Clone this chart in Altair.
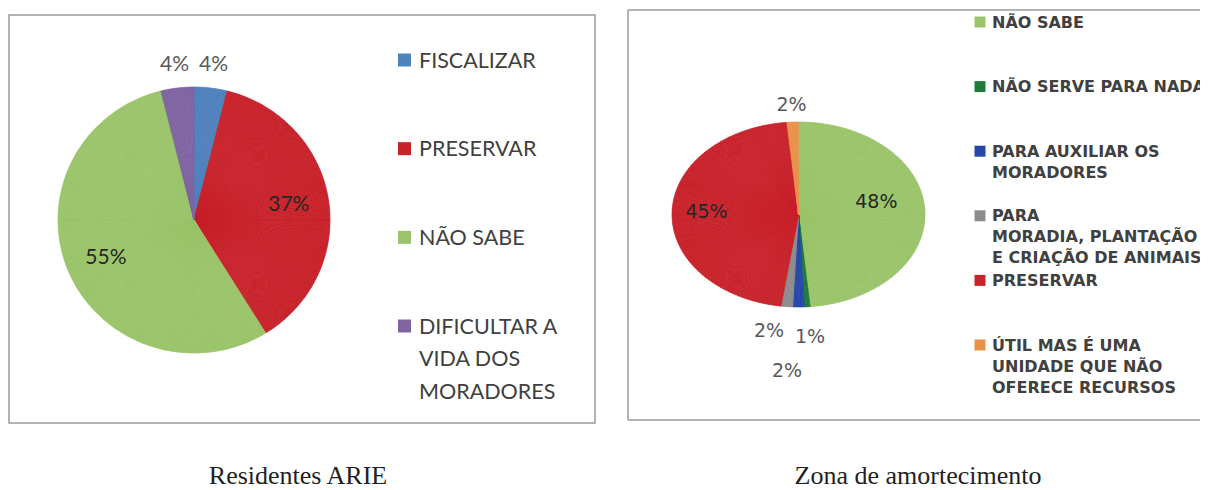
import math
import altair as alt
import pandas as pd

# ---------------- data ----------------
left_categories = ["FISCALIZAR", "PRESERVAR", "NÃO SABE", "DIFICULTAR A VIDA DOS MORADORES"]
left_values = [4, 37, 55, 4]
left_legend_labels = ["FISCALIZAR", "PRESERVAR", "NÃO SABE", "DIFICULTAR A\nVIDA DOS\nMORADORES"]
left_colors = ["#4f81bd", "#c8232b", "#9bc46a", "#8064a2"]

right_categories = [
    "NÃO SABE",
    "NÃO SERVE PARA NADA",
    "PARA AUXILIAR OS MORADORES",
    "PARA MORADIA, PLANTAÇÃO E CRIAÇÃO DE ANIMAIS",
    "PRESERVAR",
    "ÚTIL MAS É UMA UNIDADE QUE NÃO OFERECE RECURSOS",
]
right_values = [48, 1, 2, 2, 45, 2]
right_legend_labels = [
    "NÃO SABE",
    "NÃO SERVE PARA NADA",
    "PARA AUXILIAR OS\nMORADORES",
    "PARA\nMORADIA, PLANTAÇÃO\nE CRIAÇÃO DE ANIMAIS",
    "PRESERVAR",
    "ÚTIL MAS É UMA\nUNIDADE QUE NÃO\nOFERECE RECURSOS",
]
right_colors = ["#9bc46a", "#1f7a3c", "#2747a8", "#8c8c8c", "#c8232b", "#e8914b"]

captions = ["Residentes ARIE", "Zona de amortecimento"]


def make_df(cats, vals, legend_labels):
    df = pd.DataFrame({"category": cats, "value": vals, "legend": legend_labels})
    total = df["value"].sum()
    df["pct"] = df["value"] / total * 100
    df["end"] = df["pct"].cumsum()
    df["start"] = df["end"] - df["pct"]
    df["mid"] = (df["start"] + df["end"]) / 2
    df["label"] = df["value"].astype(str) + "%"
    return df


left_df = make_df(left_categories, left_values, left_legend_labels)
right_df = make_df(right_categories, right_values, right_legend_labels)
cap_df = pd.DataFrame({"caption": captions})

THETA_SCALE = alt.Scale(domain=[0, 100], range=[0, 2 * math.pi])
STEP = 0.25
BOX = "#9a9a9a"


def pie_layer(df, cats, colors, cx, cy, a, b):
    cscale = alt.Scale(domain=cats, range=colors)
    return (
        alt.Chart(df)
        .transform_calculate(seg=f"sequence(datum.start, datum.end, {STEP})")
        .transform_flatten(["seg"])
        .transform_calculate(
            seg2=f"min(datum.seg + {STEP}, datum.end)",
            ang="(datum.seg + datum.seg2) / 100 * PI",
            rad=f"1 / sqrt(pow(sin(datum.ang) / {a}, 2) + pow(cos(datum.ang) / {b}, 2))",
        )
        .mark_arc(strokeWidth=0.7)
        .encode(
            theta=alt.Theta("seg:Q", stack=None, scale=THETA_SCALE),
            theta2="seg2:Q",
            radius=alt.Radius("rad:Q", scale=None),
            color=alt.Color("category:N", scale=cscale, legend=None),
            stroke=alt.Stroke("category:N", scale=cscale, legend=None),
            x=alt.value(cx),
            y=alt.value(cy),
        )
    )


def label_layer(df, cats, cx, cy, radius, color, font, size, dx=0, dy=0):
    return (
        alt.Chart(df)
        .transform_filter(alt.FieldOneOfPredicate(field="category", oneOf=cats))
        .mark_text(font=font, fontSize=size, color=color, dx=dx, dy=dy,
                   align="center", baseline="middle")
        .encode(
            theta=alt.Theta("mid:Q", stack=None, scale=THETA_SCALE),
            radius=alt.value(radius),
            text="label:N",
            x=alt.value(cx),
            y=alt.value(cy),
        )
    )


def legend_layers(df, cats, colors, sq_x, y_first, y_last, sq_size, text_x,
                  font, size, weight, line_height, text_dy):
    yscale = alt.Scale(type="point", domain=cats, range=[y_first, y_last], padding=0)
    cscale = alt.Scale(domain=cats, range=colors)
    squares = alt.Chart(df).mark_square(size=sq_size, opacity=1).encode(
        x=alt.value(sq_x),
        y=alt.Y("category:N", scale=yscale, axis=None),
        color=alt.Color("category:N", scale=cscale, legend=None),
    )
    texts = alt.Chart(df).mark_text(
        align="left", baseline="alphabetic", lineBreak="\n", lineHeight=line_height,
        font=font, fontSize=size, fontWeight=weight, color="#404040", dy=text_dy,
    ).encode(
        x=alt.value(text_x),
        y=alt.Y("category:N", scale=yscale, axis=None),
        text="legend:N",
    )
    return [squares, texts]


def box(x1, x2, y1, y2):
    return alt.Chart(cap_df.head(1)).mark_rect(
        fillOpacity=0, stroke=BOX, strokeWidth=1.5
    ).encode(x=alt.value(x1), x2=alt.value(x2), y=alt.value(y1), y2=alt.value(y2))


def open_box(x1, y1, y2):
    # frame whose right side runs past the picture edge: top, left and bottom sides only
    base = alt.Chart(cap_df.head(1)).mark_rule(stroke=BOX, strokeWidth=1.5)
    return [
        base.encode(x=alt.value(x1), x2=alt.value(1260), y=alt.value(y1)),
        base.encode(x=alt.value(x1), x2=alt.value(1260), y=alt.value(y2)),
        base.encode(x=alt.value(x1), y=alt.value(y1), y2=alt.value(y2)),
    ]


# ---------------- left panel ----------------
LCX, LCY = 186, 212
left_layers = [
    box(1, 587, 7, 415),
    pie_layer(left_df, left_categories, left_colors, LCX, LCY, 136, 133),
    label_layer(left_df, ["FISCALIZAR", "DIFICULTAR A VIDA DOS MORADORES"], LCX, LCY, 156,
                "#595959", "Lato", 21),
    label_layer(left_df, ["PRESERVAR", "NÃO SABE"], LCX, LCY, 96, "#262626", "Lato", 21),
] + legend_layers(left_df, left_categories, left_colors, 396.5, 52, 318, 169, 411,
                  "Lato", 21.5, "normal", 32.5, 7.5)

# ---------------- right panel ----------------
RCX, RCY = 790.5, 206.5
RF = "DejaVu Sans"
right_layers = open_box(620, 2, 412) + [
    pie_layer(right_df, right_categories, right_colors, RCX, RCY, 126.5, 92.5),
    label_layer(right_df, ["NÃO SABE"], RCX, RCY, 78, "#262626", RF, 19, dy=-8),
    label_layer(right_df, ["PRESERVAR"], RCX, RCY, 92, "#262626", RF, 19),
    label_layer(right_df, ["ÚTIL MAS É UMA UNIDADE QUE NÃO OFERECE RECURSOS"], RCX, RCY, 110,
                "#595959", RF, 19),
    label_layer(right_df, ["NÃO SERVE PARA NADA"], RCX, RCY, 123, "#595959", RF, 19),
    label_layer(right_df, ["PARA MORADIA, PLANTAÇÃO E CRIAÇÃO DE ANIMAIS"], RCX, RCY, 119,
                "#595959", RF, 19, dx=-14.5, dy=-2),
    label_layer(right_df, ["PARA AUXILIAR OS MORADORES"], RCX, RCY, 156.5, "#595959", RF, 19,
                dx=-11.5),
] + legend_layers(right_df, right_categories, right_colors, 972, 14, 337, 121, 984,
                  "DejaVu Sans", 16, "bold", 21, 5.5)

# ---------------- captions ----------------
caption_layer = alt.Chart(cap_df).mark_text(
    font="Liberation Serif", fontSize=26, color="#231f20", align="center", baseline="alphabetic"
).encode(
    x=alt.X("caption:N", scale=alt.Scale(type="point", domain=captions, range=[290, 910], padding=0),
            axis=None),
    y=alt.value(476),
    text="caption:N",
)

chart = (
    alt.layer(*left_layers, *right_layers, caption_layer)
    .resolve_scale(x="independent", y="independent", color="independent",
                   stroke="independent", theta="independent")
    .properties(width=1192, height=482, autosize=alt.AutoSizeParams(type="none"), padding=0,
                background="white")
    .configure_view(stroke=None)
)

chart.save("out.html", embed_options={"renderer": "svg", "actions": False})
